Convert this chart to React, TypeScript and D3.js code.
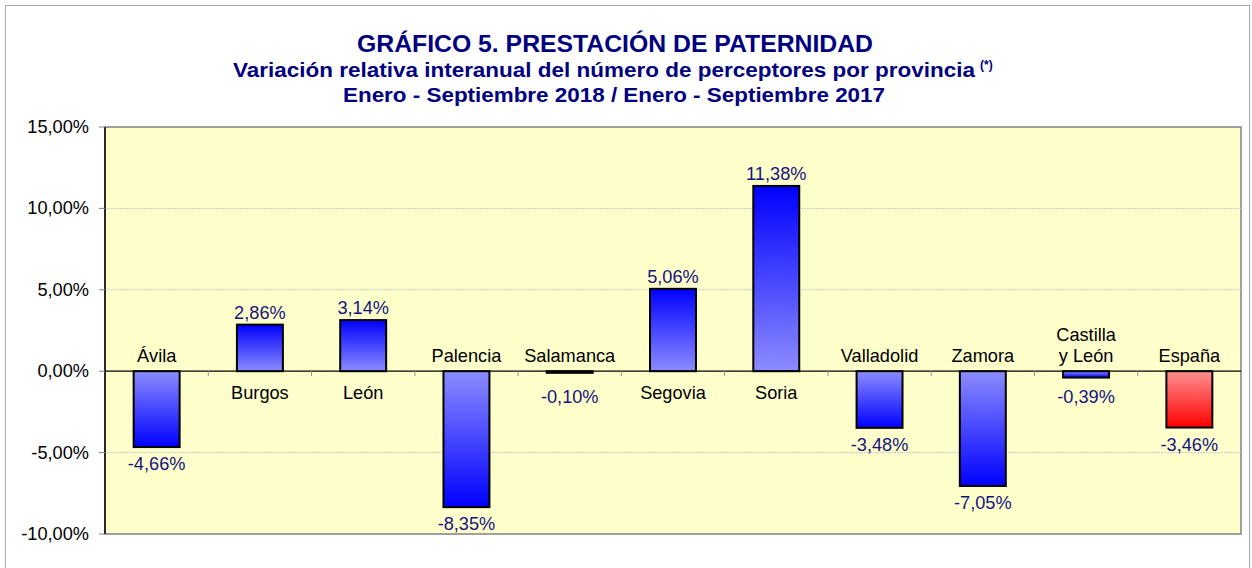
import React from "react";
import * as d3 from "d3";

const categories = ["Ávila", "Burgos", "León", "Palencia", "Salamanca", "Segovia", "Soria", "Valladolid", "Zamora", "Castilla\ny León", "España"];
const values = [-4.66, 2.86, 3.14, -8.35, -0.1, 5.06, 11.38, -3.48, -7.05, -0.39, -3.46];
const highlight = ["España"];
const yTicks = [15, 10, 5, 0, -5, -10];
const titleLines = [
  "GRÁFICO 5. PRESTACIÓN DE PATERNIDAD",
  "Variación relativa interanual del número de perceptores por provincia",
  "Enero - Septiembre 2018 / Enero - Septiembre 2017",
];

const W = 1252;
const H = 568;
const plot = { left: 105, right: 1241, top: 127, bottom: 534 };

const locale = d3.formatLocale({ decimal: ",", thousands: ".", grouping: [3], currency: ["", "€"], minus: "-" });
const fmt = (v: number) => locale.format(".2f")(v) + "%";

export default function App() {
  const x = d3.scaleBand<string>().domain(categories).range([plot.left, plot.right]).paddingInner(0).paddingOuter(0);
  const y = d3.scaleLinear().domain([-10, 15]).range([plot.bottom, plot.top]);
  const bw = x.bandwidth() * 0.445;
  const y0 = y(0);
  const font = "Arial, 'Liberation Sans', Helvetica, sans-serif";
  const navy = "#000080";
  const fs = 18.2;

  return (
    <svg width={W} height={H} style={{ position: "absolute", left: 0, top: 0 }} fontFamily={font}>
      <defs>
        <linearGradient id="bluePos" x1="0" y1="0" x2="0" y2="1">
          <stop offset="0" stopColor="#0000ff" />
          <stop offset="1" stopColor="#8c8cff" />
        </linearGradient>
        <linearGradient id="blueNeg" x1="0" y1="0" x2="0" y2="1">
          <stop offset="0" stopColor="#8c8cff" />
          <stop offset="1" stopColor="#0000ff" />
        </linearGradient>
        <linearGradient id="redPos" x1="0" y1="0" x2="0" y2="1">
          <stop offset="0" stopColor="#ff0000" />
          <stop offset="1" stopColor="#ff9090" />
        </linearGradient>
        <linearGradient id="redNeg" x1="0" y1="0" x2="0" y2="1">
          <stop offset="0" stopColor="#ff9090" />
          <stop offset="1" stopColor="#ff0000" />
        </linearGradient>
      </defs>
      <rect x={0} y={0} width={W} height={H} fill="#ffffff" />
      <rect x={5.5} y={5.5} width={1244} height={580} fill="none" stroke="#a6a6a6" strokeWidth={1} />

      {/* titles */}
      <text x={615} y={52} textAnchor="middle" fontWeight="bold" fontSize={23} fill={navy} textLength={516} lengthAdjust="spacingAndGlyphs">
        {titleLines[0]}
      </text>
      <text x={604} y={77} textAnchor="middle" fontWeight="bold" fontSize={19.5} fill={navy} textLength={742} lengthAdjust="spacingAndGlyphs">
        {titleLines[1]}
      </text>
      <text x={980} y={69} fontWeight="bold" fontSize={12} fill={navy}>(*)</text>
      <text x={614} y={102} textAnchor="middle" fontWeight="bold" fontSize={19.5} fill={navy} textLength={542} lengthAdjust="spacingAndGlyphs">
        {titleLines[2]}
      </text>

      {/* plot area */}
      <rect x={plot.left} y={plot.top} width={plot.right - plot.left} height={plot.bottom - plot.top} fill="#ffffcc" stroke="#808080" strokeWidth={1.5} />

      {yTicks.filter((t) => t !== 15 && t !== -10 && t !== 0).map((t) => (
        <line key={"g" + t} x1={plot.left} x2={plot.right} y1={y(t)} y2={y(t)} stroke="#c8c8c8" strokeWidth={1} strokeDasharray="2,1" />
      ))}

      {/* y axis */}
      <line x1={plot.left} x2={plot.left} y1={plot.top} y2={plot.bottom} stroke="#000000" strokeWidth={1.5} />
      {yTicks.map((t) => (
        <g key={"t" + t}>
          <line x1={plot.left - 6} x2={plot.left} y1={y(t)} y2={y(t)} stroke="#808080" strokeWidth={1} />
          <text x={89} y={y(t) + 6} textAnchor="end" fontSize={fs} fill="#000000">
            {fmt(t)}
          </text>
        </g>
      ))}

      {/* bars */}
      {categories.map((c, i) => {
        const v = values[i];
        const cx = (x(c) as number) + x.bandwidth() / 2;
        const top = Math.min(y(v), y0);
        const h = Math.abs(y(v) - y0);
        const isRed = highlight.includes(c);
        const grad = (isRed ? "red" : "blue") + (v >= 0 ? "Pos" : "Neg");
        return (
          <rect key={"b" + c} x={cx - bw / 2} y={top} width={bw} height={Math.max(h, 1)} fill={`url(#${grad})`} stroke="#000000" strokeWidth={2} />
        );
      })}

      {/* zero axis */}
      <line x1={plot.left} x2={plot.right} y1={y0} y2={y0} stroke="#000000" strokeWidth={1.2} />
      {categories.slice(1).map((c) => (
        <line key={"xt" + c} x1={x(c) as number} x2={x(c) as number} y1={y0} y2={y0 + 5} stroke="#909090" strokeWidth={1} />
      ))}

      {/* labels */}
      {categories.map((c, i) => {
        const v = values[i];
        const cx = (x(c) as number) + x.bandwidth() / 2;
        const lines = c.split("\n");
        const valY = v >= 0 ? y(v) - 6 : Math.max(y(v) + 23, y0 + 32);
        return (
          <g key={"l" + c}>
            <text x={cx} y={valY} textAnchor="middle" fontSize={fs} fill="#14147f">
              {fmt(v)}
            </text>
            {lines.map((ln, k) => {
              const ly = v >= 0 ? y0 + 28 + k * 21 : y0 - 9 - (lines.length - 1 - k) * 21;
              return (
                <text key={k} x={cx} y={ly} textAnchor="middle" fontSize={fs} fill="#000000">
                  {ln}
                </text>
              );
            })}
          </g>
        );
      })}
    </svg>
  );
}
